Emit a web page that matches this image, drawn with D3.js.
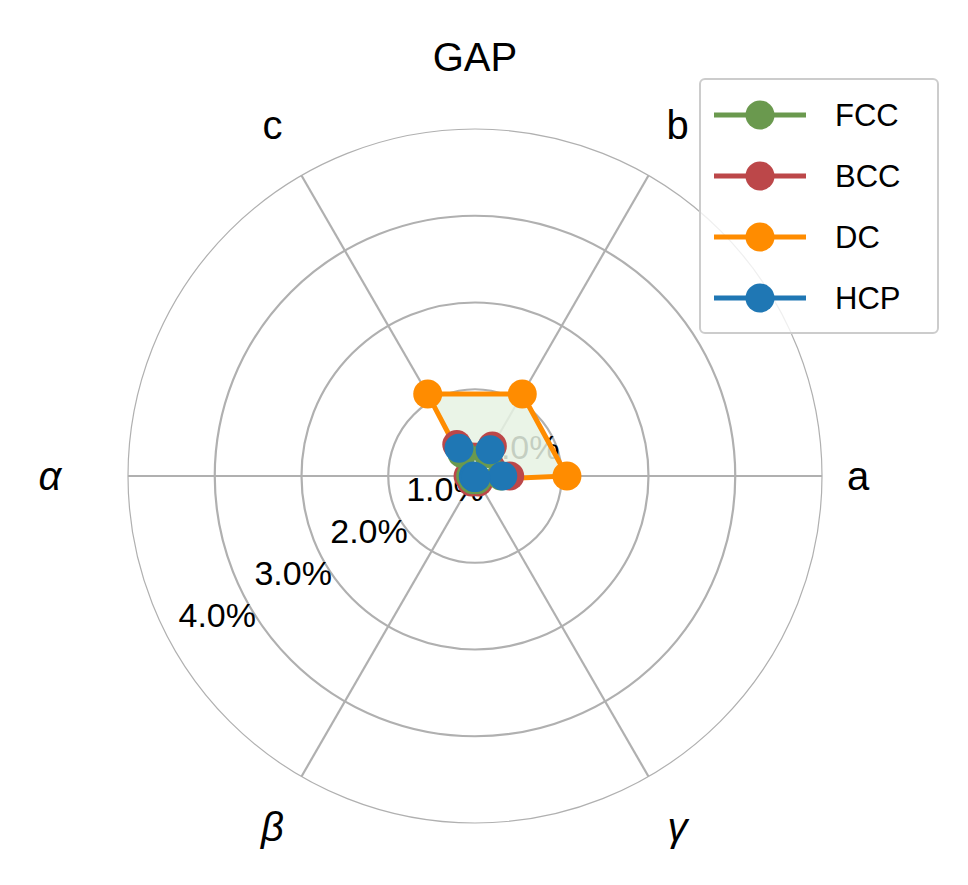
<!DOCTYPE html><html><head><meta charset="utf-8"><script src="https://d3js.org/d3.v7.min.js"></script>
<style>body{margin:0;background:#fff}</style></head><body><svg id="c" width="968" height="885"></svg>
<script>
const axes=["a","b","c","α","β","γ"];
const ticks=[1,2,3,4];
const seriesNames=["DC","BCC","FCC","HCP"];
const dcVals=[1.06,1.09,1.09,0.05,0.05,0.05];
const bccVals=[0.40,0.40,0.42,0.08,0.08,0.08];
const fccVals=[0.30,0.30,0.30,0.05,0.05,0.05];
const hcpVals=[0.32,0.35,0.37,0.02,0.02,0.02];
const colors={FCC:"#6a994e",BCC:"#bc4749",DC:"#ff8c00",HCP:"#1f77b4"};
const legendOrder=["FCC","BCC","DC","HCP"];
const vals={DC:dcVals,BCC:bccVals,FCC:fccVals,HCP:hcpVals};
const svg=d3.select("#c"),cx=475,cy=476;
const r=d3.scaleLinear().domain([0,4]).range([0,347]);
const ang=d3.scaleOrdinal().domain(axes).range(axes.map((d,i)=>i*Math.PI/3));
const labR={a:383,"α":425};
const pt=(v,a)=>[cx+r(v)*Math.cos(a),cy-r(v)*Math.sin(a)];
const g=svg.append("g");
const F="Liberation Sans, Arial";
ticks.forEach(t=>g.append("circle").attr("cx",cx).attr("cy",cy).attr("r",r(t)).attr("fill","none").attr("stroke","#b0b0b0").attr("stroke-width",t==4?1.2:2.2));
axes.forEach(a=>{const p=pt(4,ang(a));g.append("line").attr("x1",cx).attr("y1",cy).attr("x2",p[0]).attr("y2",p[1]).attr("stroke","#b0b0b0").attr("stroke-width",2.2);
 const R=labR[a]||405,an=ang(a);g.append("text").attr("x",cx+R*Math.cos(an)).attr("y",cy-R*Math.sin(an)).attr("text-anchor","middle").attr("dominant-baseline","central").attr("font-family",F).attr("font-size",40).attr("font-style",/[a-c]/.test(a)?"normal":"italic").text(a);});
const la=209*Math.PI/180;
[0,1,2,3,4].forEach(t=>{const p=pt(t,la);g.append("text").attr("x",p[0]+7).attr("y",p[1]-29).attr("dominant-baseline","central").attr("font-family",F).attr("font-size",34).text(t.toFixed(1)+"%");});
const line=d3.lineRadial().angle((d,i)=>Math.PI/2-ang(axes[i])).radius(d=>r(d)).curve(d3.curveLinearClosed);
const sg=svg.append("g").attr("transform",`translate(${cx},${cy})`);
sg.append("path").attr("d",line(dcVals)).attr("fill","#e6f2e3").attr("opacity",0.85);
seriesNames.forEach(s=>{const v=vals[s];
 sg.append("path").attr("d",line(v)).attr("fill","none").attr("stroke",colors[s]).attr("stroke-width",5);
 v.forEach((d,i)=>{const p=pt(d,ang(axes[i]));svg.append("circle").attr("cx",p[0]).attr("cy",p[1]).attr("r",14.5).attr("fill",colors[s]);});});
svg.append("text").attr("x",475).attr("y",57).attr("text-anchor","middle").attr("dominant-baseline","central").attr("font-family",F).attr("font-size",40).text("GAP");
const lg=svg.append("g");
lg.append("rect").attr("x",700).attr("y",79).attr("width",238).attr("height",254).attr("rx",5).attr("fill","#fff").attr("fill-opacity",0.8).attr("stroke","#ccc").attr("stroke-width",2);
legendOrder.forEach((s,i)=>{const y=115+i*61;
 lg.append("line").attr("x1",714).attr("x2",806).attr("y1",y).attr("y2",y).attr("stroke",colors[s]).attr("stroke-width",5);
 lg.append("circle").attr("cx",760).attr("cy",y).attr("r",14.5).attr("fill",colors[s]);
 lg.append("text").attr("x",835).attr("y",y).attr("dominant-baseline","central").attr("font-family",F).attr("font-size",31).text(s);});
</script></body></html>
